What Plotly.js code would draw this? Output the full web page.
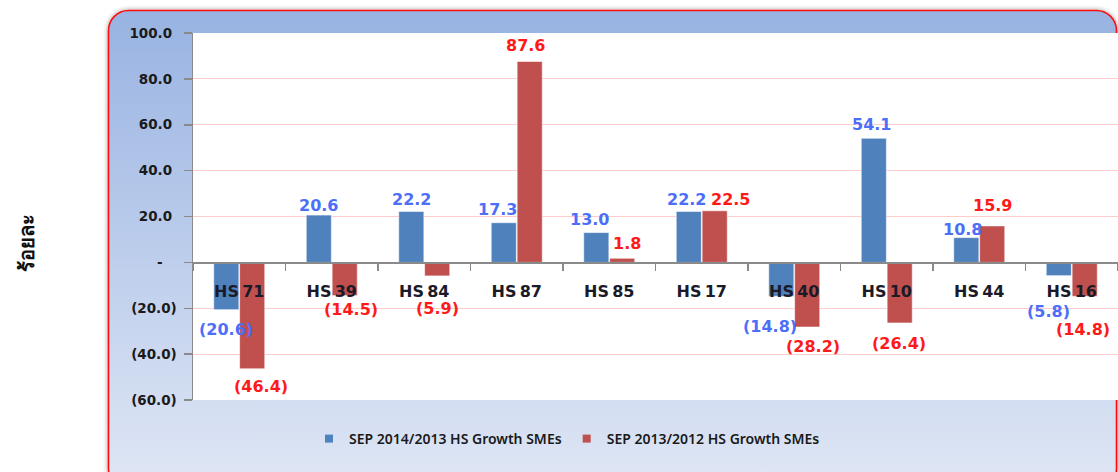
<!DOCTYPE html>
<html>
<head>
<meta charset="utf-8">
<script src="https://cdn.plot.ly/plotly-3.0.1.min.js"></script>
<style>html,body{margin:0;padding:0;background:#fff;overflow:hidden;}#chart{width:1118px;height:472px;}</style>
</head>
<body>
<div id="chart"></div>
<script>
// ---- data ----
const categories = ['HS 71','HS 39','HS 84','HS 87','HS 85','HS 17','HS 40','HS 10','HS 44','HS 16'];
const sep2014 = [-20.6, 20.6, 22.2, 17.3, 13.0, 22.2, -14.8, 54.1, 10.8, -5.8];
const sep2013 = [-46.4, -14.5, -5.9, 87.6, 1.8, 22.5, -28.2, -26.4, 15.9, -14.8];
const seriesNames = ['SEP 2014/2013 HS Growth SMEs', 'SEP 2013/2012 HS Growth SMEs'];
const yTickVals = [-60, -40, -20, 0, 20, 40, 60, 80, 100];
const yTickText = ['(60.0)', '(40.0)', '(20.0)', '-\u00A0\u00A0\u00A0', '20.0\u00A0', '40.0\u00A0', '60.0\u00A0', '80.0\u00A0', '100.0\u00A0'];
const yTitle = 'ร้อยละ';

// ---- label placement tweaks (pixels: [dx, extra distance from bar end]) ----
const labelNudge = [
  [[0, 1], [0, -3], [0, -1], [-6, 0], [-7, 0], [-2, -1], [-11, 11], [-2, 1], [-4, -5], [-10, 17]],
  [[9, -1], [6, -5], [0, 14], [-4, 3], [5, 2], [16, -2], [6, 0], [-1, 2], [0, 7], [-2, 14]]
];

// ---- layout geometry (pixels) ----
const W = 1118, H = 472;
const M = {l: 193, r: 0, t: 33, b: 72};
const pw = W - M.l - M.r, ph = H - M.t - M.b;
const px = x => (x - M.l) / pw;
const py = y => (H - M.b - y) / ph;

const fmt = v => v < 0 ? '(' + Math.abs(v).toFixed(1) + ')' : v.toFixed(1);

const blue = '#4f81bd', red = '#c0504d';
const labelColors = ['#4d6ff8', '#ff1a1a'];
const labelFont = {family: 'DejaVu Sans, Verdana, sans-serif', size: 16, weight: 'bold'};

const svg = `<svg xmlns='http://www.w3.org/2000/svg' width='${W}' height='${H}' viewBox='0 0 ${W} ${H}'>
<defs>
<linearGradient id='g' x1='0' y1='0' x2='0' y2='1'>
<stop offset='0' stop-color='#98b3e2'/><stop offset='1' stop-color='#e0e7f5'/>
</linearGradient>
<filter id='s' x='-3%' y='-6%' width='106%' height='112%'>
<feGaussianBlur in='SourceAlpha' stdDeviation='2.5'/>
<feComponentTransfer><feFuncA type='linear' slope='0.4'/></feComponentTransfer>
<feMerge><feMergeNode/><feMergeNode in='SourceGraphic'/></feMerge>
</filter>
</defs>
<rect x='108.5' y='10.5' width='1008' height='478' rx='20' ry='20' fill='url(#g)' stroke='#ff1010' stroke-width='1.6' filter='url(#s)'/>
<rect x='${M.l}' y='${M.t}' width='${pw}' height='${ph}' fill='#ffffff'/>
</svg>`;
const bgSrc = 'data:image/svg+xml;charset=utf-8,' + encodeURIComponent(svg);

const series = [sep2014, sep2013];
const colors = [blue, red];

const traces = [];
series.forEach((vals, i) => {
  traces.push({
    type: 'bar', x: categories, y: vals, name: seriesNames[i], showlegend: false,
    marker: {color: colors[i], line: {width: 0.8, color: 'rgba(255,255,255,0.7)'}},
    hoverinfo: 'x+y'
  });
});
series.forEach((vals, i) => {
  traces.push({type: 'scatter', mode: 'markers', x: [null], y: [null], name: seriesNames[i],
    marker: {symbol: 'square', size: 8, color: colors[i]}});
});

// data labels as annotations so they sit above all bars
const barShift = 13;
const annotations = [];
series.forEach((vals, i) => {
  vals.forEach((v, j) => {
    const n = labelNudge[i][j];
    const dir = v >= 0 ? 1 : -1;
    const base = v >= 0 ? 13 : 19;
    annotations.push({
      xref: 'x', yref: 'y', x: categories[j], y: v, text: fmt(v), showarrow: false,
      xanchor: 'center', yanchor: 'middle',
      xshift: (i === 0 ? -barShift : barShift) + n[0],
      yshift: dir * (base + n[1]),
      font: Object.assign({color: labelColors[i]}, labelFont)
    });
  });
});
annotations.push({
  text: yTitle, xref: 'paper', yref: 'paper', x: px(26), y: py(243),
  xanchor: 'center', yanchor: 'middle', textangle: -90, showarrow: false,
  font: {family: 'Noto Sans, DejaVu Sans, sans-serif', size: 20, color: '#111111', weight: 'bold'}
});

const layout = {
  width: W, height: H,
  margin: M,
  paper_bgcolor: '#ffffff',
  plot_bgcolor: 'rgba(0,0,0,0)',
  barmode: 'group', bargap: 0.44, bargroupgap: 0.03,
  showlegend: true,
  legend: {
    orientation: 'h', x: px(309), xanchor: 'left', y: py(439), yanchor: 'middle',
    bgcolor: 'rgba(0,0,0,0)', itemwidth: 30,
    font: {family: 'Noto Sans, Open Sans, sans-serif', size: 14, color: '#1a1a1a', weight: 600}
  },
  xaxis: {
    type: 'category', categoryorder: 'array', categoryarray: categories,
    tickvals: categories, ticktext: categories.map(c => c.replace(' ', '\u2009')),
    range: [-0.5, categories.length - 0.5],
    anchor: 'free', position: 60 / 160,
    showline: true, linecolor: '#8a8a8a', linewidth: 1.5,
    ticks: 'outside', tickson: 'boundaries', ticklen: 7, tickcolor: '#8a8a8a', tickwidth: 1.5,
    showgrid: false, zeroline: false, ticklabelstandoff: 14,
    tickfont: {family: 'DejaVu Sans, Verdana, sans-serif', size: 16, color: '#1a1a28', weight: 'bold'}
  },
  yaxis: {
    range: [-60, 100], tickvals: yTickVals, ticktext: yTickText,
    showline: true, linecolor: '#8a8a8a', linewidth: 1.5,
    ticks: 'outside', ticklen: 8, tickcolor: '#8a8a8a', tickwidth: 1.5,
    showgrid: true, gridcolor: '#ffcccc', gridwidth: 1, zeroline: false,
    ticklabelstandoff: 4,
    tickfont: {family: 'DejaVu Sans, Verdana, sans-serif', size: 13.5, color: '#1a1a1a', weight: 'bold'}
  },
  annotations: annotations,
  images: [{
    source: bgSrc, xref: 'paper', yref: 'paper',
    x: px(0), y: py(0), sizex: W / pw, sizey: H / ph,
    xanchor: 'left', yanchor: 'top', sizing: 'stretch', layer: 'below'
  }]
};

Plotly.newPlot('chart', traces, layout, {displayModeBar: false, staticPlot: true});
</script>
</body>
</html>
